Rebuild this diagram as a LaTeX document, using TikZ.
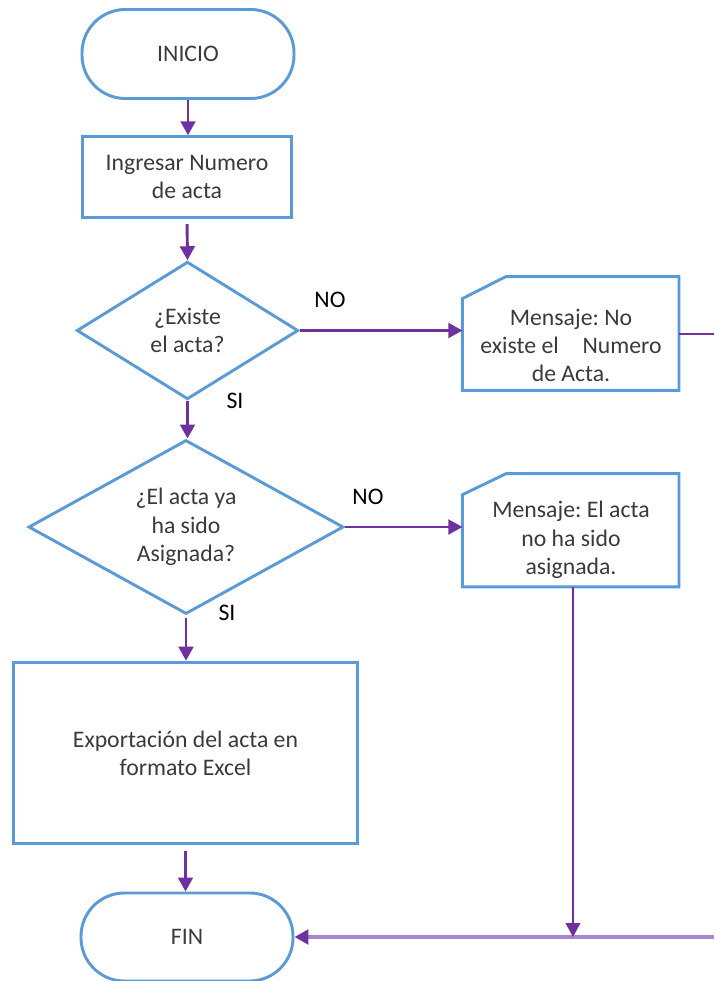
\documentclass[tikz,border=0pt]{standalone}
\usepackage{fontspec}
\setmainfont{Carlito}
\usetikzlibrary{arrows.meta,shapes.geometric,calc}
\definecolor{bord}{HTML}{5B9BD5}
\definecolor{flow}{HTML}{7030A0}
\definecolor{flowlt}{HTML}{A986D2}
\definecolor{txtc}{HTML}{3A3A3A}
\frenchspacing
\begin{document}
\begin{tikzpicture}[x=0.75pt,y=-0.75pt,
  every node/.style={font=\fontsize{17.8pt}{21.2pt}\selectfont, text=txtc, align=center, inner sep=0pt},
  shapeline/.style={draw=bord, line width=2.2pt},
  term/.style={shapeline, rectangle, rounded corners=32.5pt},
  procbox/.style={shapeline, rectangle},
  decision/.style={shapeline, diamond},
  cardbox/.style={rectangle, draw=none},
  lbl/.style={text=black},
  tipA/.style={-{Triangle[length=10.5pt,width=11pt]}},
  flowarrow/.style={draw=flow, line width=2.2pt, tipA},
  flowthin/.style={draw=flow, line width=1.4pt},
  flowlight/.style={draw=flowlt, line width=2.4pt, -{Triangle[length=10.5pt,width=11pt,color=flow]}}
]
\useasboundingbox (0,0) rectangle (714,981);

% nodes
\node[term, minimum width=159pt, minimum height=66.75pt] (start) at (188,54) {INICIO};
\node[procbox, minimum width=156.75pt, minimum height=60.4pt] (ing) at (187,177) {Ingresar Numero\\de acta};
\node[decision, aspect=1.61, minimum width=166.2pt, minimum height=103.2pt] (d1) at (187.5,330.5) {¿Existe\\el acta?};
\node[decision, aspect=1.81, minimum width=236.25pt, minimum height=130.5pt] (d2) at (186,527) {¿El acta ya\\ha sido\\Asignada?};
\node[procbox, minimum width=258.3pt, minimum height=136.3pt] (exp) at (185.5,753) {Exportación del acta en\\formato Excel};
\node[term, minimum width=159pt, minimum height=66pt] (fin) at (187,937) {FIN};

\node[cardbox, minimum width=162pt, minimum height=85pt] (m1) at (570.7,333.5) {};
\node[cardbox, minimum width=162pt, minimum height=84.5pt] (m2) at (570.7,530.3) {};
\draw[shapeline] ($(m1.north west)+(43.5,0)$) -- (m1.north east) -- (m1.south east) -- (m1.south west) -- ($(m1.north west)+(0,22)$) -- cycle;
\draw[shapeline] ($(m2.north west)+(43.5,0)$) -- (m2.north east) -- (m2.south east) -- (m2.south west) -- ($(m2.north west)+(0,21)$) -- cycle;
\node (m1t) at (571,345.5) {Mensaje: No\\existe el\quad{}Numero\\de Acta.};
\node (m2t) at (571,540) {Mensaje: El acta\\no ha sido\\asignada.};

% labels
\node[lbl] (no1) at (330,300) {NO};
\node[lbl] (si1) at (235,401) {SI};
\node[lbl] (no2) at (368,497) {NO};
\node[lbl] (si2) at (227,613) {SI};

% connectors
\draw[flowarrow] (start.south) -- (start.south |- ing.north);
\draw[flowarrow, shorten <=4pt] (ing.south) -- (d1.north);
\draw[flowarrow] (d1.south) -- (d1.south |- d2.north);
\draw[flowarrow, shorten <=2pt] (d2.south) -- (d2.south |- exp.north);
\draw[flowarrow, shorten <=4pt] (exp.south) -- (exp.south |- fin.north);
\draw[flowarrow] (d1.east) -- (m1.west |- d1.east);
\draw[flowarrow] (d2.east) -- (m2.west |- d2.east);

\coordinate (r1) at (714,334);
\coordinate (r2) at (714,937);
\coordinate (j) at (573,937);
\draw[flowthin] (m1.east |- r1) -- (r1);
\draw[flowlight] (r2) -- (fin.east);
\draw[flowthin, tipA] (m2.south -| j) -- (j);
\end{tikzpicture}
\end{document}
